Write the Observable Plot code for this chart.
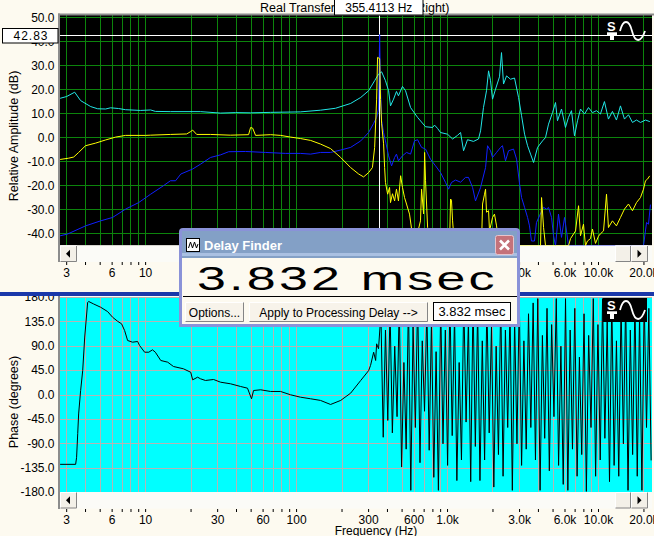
<!DOCTYPE html>
<html><head><meta charset="utf-8">
<script src="https://cdn.jsdelivr.net/npm/d3@7"></script>
<script src="https://cdn.jsdelivr.net/npm/@observablehq/plot@0.6"></script>
<style>
html,body{margin:0;padding:0;background:#fdfaf0;}
#wrap{position:relative;width:654px;height:536px;overflow:hidden;background:#fdfaf0;font-family:"Liberation Sans",Arial,sans-serif;}
</style></head>
<body><div id="wrap"></div>
<script>
// ---------- scales / ticks ----------
const freqDomain = [2.73, 22790];
const magDomain = [-45, 51];
const phaseDomain = [-180, 180];
const gridFreqs = [3,4,5,6,7,8,9,10,20,30,40,50,60,70,80,90,100,200,300,400,500,600,700,800,900,1000,2000,3000,4000,5000,6000,7000,8000,9000,10000,20000];
const labeledFreqs = [3,6,10,30,60,100,300,600,1000,3000,6000,10000,20000];
const magTicks = [-40,-30,-20,-10,0,10,20,30,40,50];
const phaseTicks = [-180,-135,-90,-45,0,45,90,135,180];
const cursorHz = 355.4113;
const cursorDb = 42.83;
const delayMs = 3.832;
const titleText = "Real Transfer Function";
const titleTail = "(Right)";

// ---------- magnitude: cyan ----------
const cyanHz = [2.73,3.0,3.39,3.71,4.33,4.81,5.43,5.86,6.62,7.37,9.27,10.8,11.6,14.6,23.1,31.4,39.5,49.6,67.3,106,144,181,228,266,300,329,349,366,388,407,419,439,459,473,503,527,569,633,715,796,820,859,899,1000,1080,1164,1220,1277,1356,1486,1604,1655,1730,1812,1870,1927,1986,2080,2209,2278,2349,2461,2613,2778,2954,3093,3238,3390,3548,3715,3947,4258,4458,4667,4960,5192,5350,5688,6043,6327,6624,6934,7260,7600,8076,8582,9120,9700,10300,10950,11640,12370,13150,13980,14860,15800,16790,17850,18970,20480,21760];
const cyanDb = [16.5,17.2,19.0,15.5,13.0,12.1,12.0,12.5,12.2,11.7,11.4,11.6,11.0,10.9,10.9,10.3,10.5,10.4,10.6,10.8,11.5,12.3,14.3,16.8,19.6,23.8,26.5,27.5,23.8,19.6,13.3,16.1,19.3,17.5,21.4,19.6,12.6,8.5,4.6,4.3,5.3,3.9,2.2,1.5,-0.5,1.0,2.2,-5.4,-0.8,-1.5,-0.5,2.9,12.6,19.6,27.9,23.8,16.1,20.3,25.4,35.5,22.4,25.8,24.4,24.9,16.8,9.2,1.5,-3.3,-6.8,-10.3,-4.0,-1.3,0.1,5.7,10.5,14.7,7.1,12.0,4.3,8.5,11.3,0.8,7.1,12.0,9.9,12.6,10.5,11.3,9.9,15.1,7.8,11.0,7.4,13.3,7.8,9.6,6.4,7.4,6.4,7.4,6.8];

// ---------- magnitude: yellow ----------
const yellowHz = [2.73,3.09,3.34,3.6,4.0,4.67,5.43,6.33,7.37,10,10.8,14.6,18.7,19.9,20.5,21.8,26.9,36.5,48.1,49.6,51.2,53.5,67.3,78.4,91.2,106,124,144,168,196,228,258,278,300,318,329,339,344,355,360,366,377,383,388,401,413,419,432,446,459,473,489,503,519,535,560,578,604,662,673,694,705,715,738,771,1031,1047,1062,1080,1112,1679,1706,1758,1786,1812,1870,1897,1986,2046,2112,2178,2246,4130,4196,4327,4458,6327,6529,7047,7378,7600,7955,8200,8450,8851,9120,9552,10000,10300,10800,11300,11640,12370,13150,13980,14860,15800,16790,17850,18970,19870,20480,21130,21760];
const yellowDb = [-9.0,-8.5,-8.0,-6.1,-3.3,-2.2,-0.9,0.3,1.0,1.0,1.1,1.4,1.6,2.6,3.2,1.4,1.4,1.1,1.3,4.3,4.0,1.0,1.3,1.0,0.3,-0.3,-1.1,-2.6,-4.5,-8.2,-12.4,-15.1,-16.3,-14.5,-12.4,-4.0,16.1,33.5,33.0,16.0,5.8,-2.5,-12.4,-18.6,-23.5,-20.7,-27.0,-23.3,-26.3,-21.4,-26.3,-15.8,-20.7,-24.9,-27.6,-31.8,-38.0,-45,-34.6,-21.4,-31.7,-6.1,-17.9,-37.4,-45,-45,-25.5,-26.0,-34.6,-45,-45,-27.6,-23.5,-21.4,-31.0,-30.4,-38.8,-33.2,-31.8,-36.7,-43.0,-45,-45,-24.9,-37.4,-45,-45,-42.0,-38.8,-28.3,-40.8,-36.0,-45,-43.0,-42.0,-38.0,-44.0,-41.0,-40.0,-38.8,-23.5,-37.4,-34.6,-36.7,-33.2,-29.7,-27.6,-30.4,-27.0,-24.9,-21.4,-17.9,-17.2,-16.0];

// ---------- magnitude: blue ----------
const blueHz = [2.73,3.04,4.0,5.04,6.04,7.37,8.99,10.8,13.1,14.6,15.8,17.1,20.5,23.1,26.9,31.4,35.5,45.9,62.3,84.6,106,124,144,168,196,228,266,300,324,339,349,355,360,366,377,388,407,426,446,459,473,503,535,569,604,633,673,715,771,833,899,970,1016,1062,1130,1220,1315,1377,1465,1532,1655,1786,1841,1927,1986,2112,2246,2312,2421,2536,2737,2866,3001,3093,3238,3390,3491,3597,3767,3884,4066,4327,4531,4667,4887,5036,5192,5433,5688,5957,6141,6327,19870,20810,21440,22080];
const blueDb = [-40.8,-40.1,-36.7,-34.6,-33.2,-29.7,-27.0,-23.5,-20.0,-17.9,-17.9,-15.1,-13.0,-11.0,-8.2,-7.1,-5.8,-5.7,-6.1,-6.5,-6.5,-6.8,-6.1,-6.1,-5.1,-4.0,-1.3,2.2,6.0,8.5,12.0,43.0,20.0,7.1,2.2,-1.3,-7.5,-11.7,-8.2,-6.8,-9.6,-7.5,-6.1,-6.8,-1.3,-0.8,-4.0,-4.7,-8.9,-11.7,-14.5,-18.6,-21.4,-18.6,-17.6,-18.5,-16.5,-16.5,-20.7,-26.3,-20.7,-12.4,-3.3,-5.4,-8.2,-6.1,-4.0,-3.3,-9.6,-5.4,-4.7,-8.9,-19.3,-24.9,-29.0,-33.2,-36.7,-43.0,-43.0,-35.3,-32.5,-29.0,-29.7,-29.0,-33.2,-40.8,-45,-31.8,-41.5,-33.2,-38.8,-45,-45,-35.3,-36.0,-28.0];

// ---------- phase (black) ----------
const phaseLowHz = [2.73,3.44,3.49,3.55,3.6,3.71,3.83,3.95,4.13,4.2,4.53,5.04,5.6,6.04,6.53,6.93,7.26,7.6,8.2,8.85,9.12,9.85,10.5,11.1,11.6,12.6,14.0,15.3,17.8,19.9,20.5,22.1,23.1,24.9,28.2,31.4,36.5,42.6,47.3,50.3,51.9,57.8,67.3,78.4,91.2,106,124,144,168,196,228,266,300,309,324,334,339,349];
const phaseLowDeg = [-128,-128,-115,-71,-35,8,45,107,171,172.6,168,162,154,143.6,136,131.4,119,100.6,97.5,98.8,91.4,79,79,83.4,79,63.7,60.6,52.6,48.4,42,28,32.9,29.9,26.8,28.6,23.6,20.7,15.7,12.6,-7,8.3,9.6,6.5,6.5,0.4,-4,-7,-10,-17.5,-10,3.4,26.8,45,54.5,79,63.7,94.5,85.3];
const phaseHighHz = [362,375,388,402,416,431,447,463,479,496,514,532,551,571,591,612,634,657,680,704,730,756,783,811,840,870,901,933,967,1001,1037,1074,1113,1153,1194,1237,1281,1327,1375,1424,1475,1528,1583,1640,1699,1760,1823,1888,1956,2026,2099,2174,2252,2333,2417,2504,2594,2687,2783,2883,2987,3094,3205,3320,3439,3563,3691,3823,3961,4103,4250,4403,4561,4725,4894,5070,5252,5441,5636,5839,6048,6266,6491,6724,6965,7215,7475,7743,8021,8310,8608,8918,9238,9570,9914,10270,10640,11020,11420,11830,12250,12690,13150,13620,14110,14620,15140,15690,16250,16830,17440,18060,18710,19390,20080,20800,21550,22320];
const phaseHighDeg = [150,-78,120,-47,160,-70,90,-40,170,-133,60,-100,175,-176,130,-60,178,-125,100,-30,160,-102,140,-152,80,-176,170,-90,120,-130,178,-75,150,-158,60,-120,178,-50,140,-160,178,-95,160,-158,100,-120,170,-70,130,-170,90,-110,178,-150,120,-60,160,-176,140,-90,178,-130,100,-100,150,-60,170,-120,178,-176,110,-80,160,-140,130,-40,178,-130,90,-165,178,-176,120,-100,160,-150,70,-110,150,-178,110,-60,178,-150,130,-120,178,-80,140,-160,178,-130,100,-150,170,-90,178,-176,120,-110,178,-150,150,-176,178,-60,160,-120];

// ---------- build ----------
const pairs = (hz, v) => hz.map((f, i) => ({f, v: v[i]}));
const cyan = pairs(cyanHz, cyanDb);
const yellow = pairs(yellowHz, yellowDb);
const blue = pairs(blueHz, blueDb);
const phase = pairs(phaseLowHz.concat(phaseHighHz), phaseLowDeg.concat(phaseHighDeg));

const FONT = "'Liberation Sans', Arial, sans-serif";
const fmtFreq = f => f >= 1000 ? (f / 1000).toFixed(1) + "k" : String(f);
const xOpts = {type: "log", domain: freqDomain, range: [60, 652], ticks: gridFreqs, tickFormat: () => "", tickSize: 3, tickPadding: 3, label: null};
const plotStyle = {background: "transparent", fontSize: "12px", fontFamily: FONT, color: "#000", overflow: "visible"};
const freqLabels = () => Plot.text(labeledFreqs, {x: d => d, text: fmtFreq, frameAnchor: "bottom", lineAnchor: "middle", dy: 10.5, fontSize: 12, fill: "#000"});

const topPlot = Plot.plot({
  width: 654, height: 292,
  marginLeft: 60, marginRight: 2, marginTop: 0, marginBottom: 30,
  style: plotStyle,
  x: xOpts,
  y: {domain: magDomain, range: [245.3, 14.9], ticks: magTicks, tickFormat: d => d.toFixed(1), tickSize: 0, tickPadding: 6, label: null},
  marks: [
    Plot.rect([0], {x1: freqDomain[0], x2: freqDomain[1], y1: magDomain[0], y2: magDomain[1], fill: "#000"}),
    Plot.ruleX(gridFreqs, {y1: magDomain[0], y2: magDomain[1], stroke: "#0c840c", strokeWidth: 1, shapeRendering: "crispEdges"}),
    Plot.ruleY(magTicks, {x1: freqDomain[0], x2: freqDomain[1], stroke: "#0c840c", strokeWidth: 1, shapeRendering: "crispEdges"}),
    Plot.ruleY([cursorDb], {x1: freqDomain[0], x2: freqDomain[1], stroke: "#ffffff", strokeWidth: 1, shapeRendering: "crispEdges"}),
    Plot.ruleX([cursorHz], {y1: magDomain[0], y2: magDomain[1], stroke: "#ffffff", strokeWidth: 1, shapeRendering: "crispEdges"}),
    Plot.line(blue, {x: "f", y: "v", stroke: "#1020ff", strokeWidth: 1}),
    Plot.line(cyan, {x: "f", y: "v", stroke: "#22e6e6", strokeWidth: 1}),
    Plot.line(yellow, {x: "f", y: "v", stroke: "#ffff00", strokeWidth: 1}),
    freqLabels()
  ]
});

const botPlot = Plot.plot({
  width: 654, height: 536,
  marginLeft: 60, marginRight: 2, marginTop: 0, marginBottom: 27,
  style: plotStyle,
  x: xOpts,
  y: {domain: phaseDomain, range: [492, 297], ticks: phaseTicks, tickFormat: d => d.toFixed(1), tickSize: 0, tickPadding: 6, label: null},
  marks: [
    Plot.rect([0], {x1: freqDomain[0], x2: freqDomain[1], y1: phaseDomain[0], y2: phaseDomain[1], fill: "#00ffff"}),
    Plot.ruleX(gridFreqs, {y1: phaseDomain[0], y2: phaseDomain[1], stroke: "#b4b4b4", strokeWidth: 1, shapeRendering: "crispEdges"}),
    Plot.ruleY(phaseTicks, {x1: freqDomain[0], x2: freqDomain[1], stroke: "#b4b4b4", strokeWidth: 1, shapeRendering: "crispEdges"}),
    Plot.line(phase, {x: "f", y: "v", stroke: "#000", strokeWidth: 1}),
    freqLabels()
  ]
});

const wrap = document.getElementById("wrap");
for (const el of [topPlot, botPlot]) {
  el.style.position = "absolute"; el.style.left = "0px"; el.style.top = "0px";
  wrap.appendChild(el);
}

// ---------- window chrome overlay ----------
function bevel(x, y, w, h, face) {
  return `<rect x="${x}" y="${y}" width="${w}" height="${h}" fill="${face}"/>
  <path d="M${x+0.5},${y+h-0.5} V${y+0.5} H${x+w-0.5}" stroke="#ffffff" fill="none"/>
  <path d="M${x+0.5},${y+h-0.5} H${x+w-0.5} V${y+0.5}" stroke="#858585" fill="none"/>`;
}
function scrollStrip(y) {
  return `<rect x="60" y="${y}" width="592" height="16.5" fill="#fbfbf7"/>
  ${bevel(60, y, 17, 16.5, "#f3f0e8")}
  <path d="M66,${y+8.25} l4,-4 v8 z" fill="#000"/>
  ${bevel(615, y, 16, 16.5, "#f3f0e8")}
  ${bevel(631, y, 17, 16.5, "#f3f0e8")}
  <path d="M641.5,${y+8.25} l-4,-4 v8 z" fill="#000"/>`;
}
function logo(x, y, bg) {
  return `${bg ? `<rect x="${x}" y="${y}" width="44" height="24" fill="#000"/>` : ""}
  <text x="${x+4}" y="${y+12}" font-size="13" font-weight="bold" fill="#fff" font-family="${FONT}">S</text>
  <rect x="${x+4}" y="${y+13.3}" width="10" height="2.7" fill="#fff"/>
  <rect x="${x+7}" y="${y+16}" width="4" height="5" fill="#fff"/>
  <path d="M${x+17},${y+12} C${x+20},${y+0} ${x+26},${y+0} ${x+29},${y+12} S${x+38},${y+24} ${x+42},${y+12}" stroke="#fff" stroke-width="1.8" fill="none"/>`;
}
const delayStr = delayMs.toFixed(3);

const overlay = `
<svg width="654" height="536" style="position:absolute;left:0;top:0" font-family="${FONT}">
  <rect x="58" y="13.5" width="596" height="2" fill="#8c8c8c"/>
  <rect x="58" y="13.5" width="2" height="248.5" fill="#8c8c8c"/>
  <rect x="58" y="296" width="2" height="213" fill="#8c8c8c"/>
  ${scrollStrip(245.5)}
  ${scrollStrip(492)}
  <rect x="0" y="292" width="654" height="4" fill="#1a38aa"/>
  ${logo(603, 19, false)}
  ${logo(603, 298, true)}
  <text x="260" y="11.5" font-size="12.5">${titleText}<tspan x="412">${titleTail}</tspan></text>
  <rect x="334.5" y="-0.5" width="88.5" height="15.5" fill="#fff" stroke="#000"/>
  <text x="378.8" y="11.5" font-size="12" text-anchor="middle">${cursorHz} Hz</text>
  <rect x="2.5" y="28.5" width="55.5" height="14.5" fill="#fff" stroke="#000"/>
  <text x="31" y="40" font-size="12" text-anchor="middle" letter-spacing="1">${cursorDb.toFixed(2)}</text>
  <text transform="translate(18,136) rotate(-90)" font-size="12.5" text-anchor="middle">Relative Amplitude (dB)</text>
  <text transform="translate(18,402) rotate(-90)" font-size="12.5" text-anchor="middle">Phase (degrees)</text>
  <text x="376" y="535" font-size="12" text-anchor="middle">Frequency (Hz)</text>

  <!-- Delay Finder dialog -->
  <path d="M179,232 Q179,228 183,228 L516,228 Q520,228 520,232 L520,327 L179,327 Z" fill="#8a92d8"/>
  <rect x="182" y="231" width="335" height="27" fill="#83a0c6"/>
  <rect x="182" y="253" width="335" height="3" fill="#a9c0e2"/>
  <rect x="182" y="258" width="335" height="66" fill="#fdfaf0"/>
  <rect x="186.5" y="238.5" width="13" height="13" fill="#fff" stroke="#000"/>
  <path d="M188.5,248 l2,-6 l2,6 l2,-6 l2,6 l1.5,-4" stroke="#000" fill="none"/>
  <text x="204" y="249.5" font-size="13" font-weight="bold" fill="#fff">Delay Finder</text>
  <rect x="495.5" y="235.5" width="18" height="19" rx="2" fill="#c4727a" stroke="#e6c4cc"/>
  <path d="M500,240.5 L509,249.5 M509,240.5 L500,249.5" stroke="#fff" stroke-width="2.6"/>
  <text transform="translate(197,290) scale(1.6,1)" font-size="32.5" letter-spacing="2">${delayStr} msec</text>
  <line x1="183" y1="296.5" x2="517" y2="296.5" stroke="#000"/>
  ${bevel(185, 302, 59, 20, "#f7f3ea")}
  <text x="214.5" y="316.5" font-size="12" text-anchor="middle">Options...</text>
  ${bevel(249, 302, 179, 20, "#f7f3ea")}
  <text x="338.5" y="316.5" font-size="12" text-anchor="middle">Apply to Processing Delay --&gt;</text>
  <rect x="433.5" y="302.5" width="77" height="18" fill="#fff" stroke="#000"/>
  <text x="472" y="316" font-size="13" text-anchor="middle">${delayStr} msec</text>
</svg>`;
wrap.insertAdjacentHTML("beforeend", overlay);
</script>
</body></html>
